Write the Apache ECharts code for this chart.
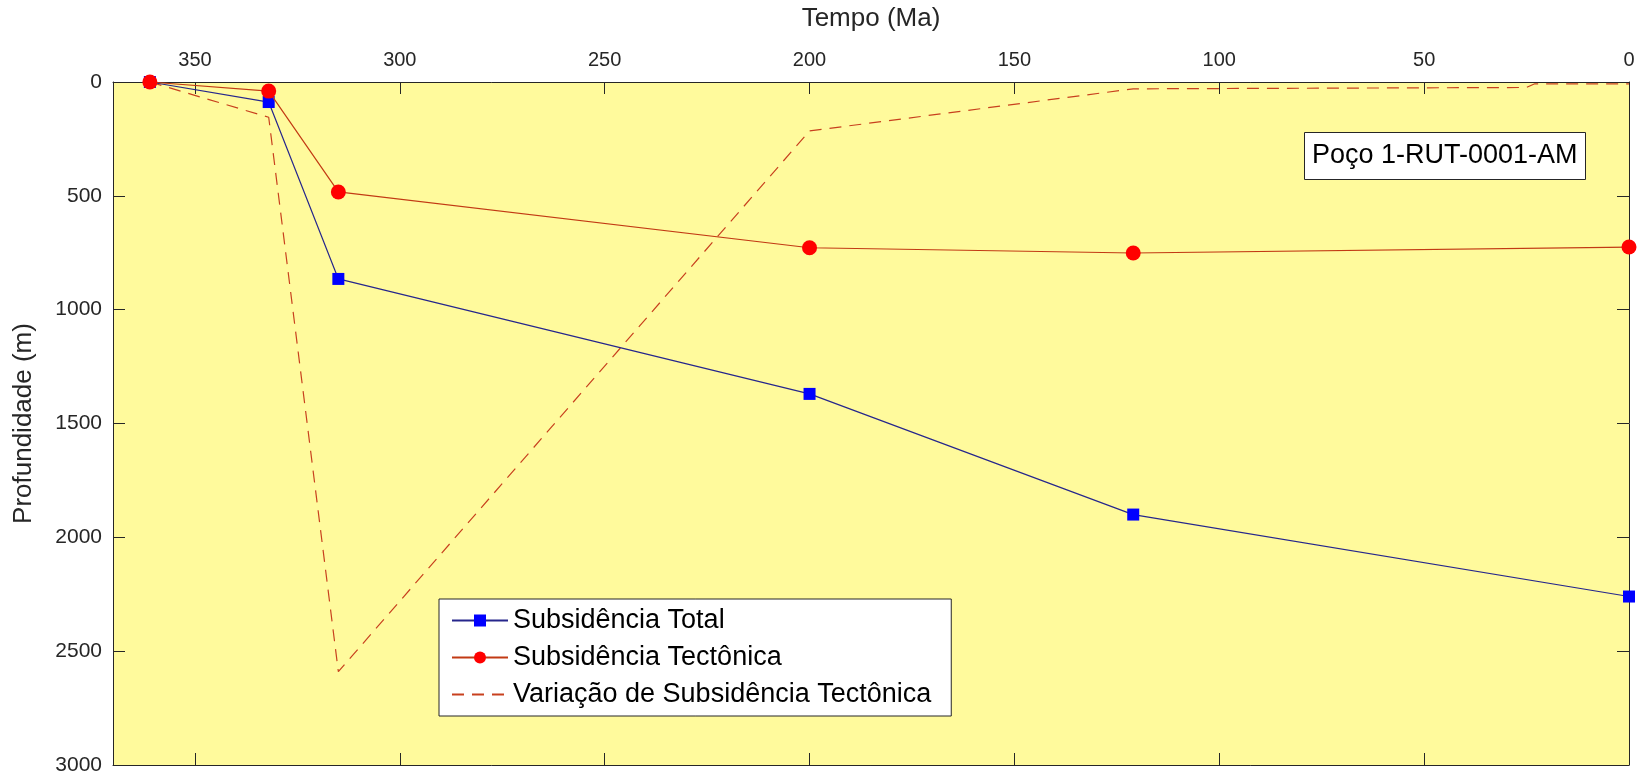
<!DOCTYPE html>
<html>
<head>
<meta charset="utf-8">
<script src="https://cdn.jsdelivr.net/npm/echarts@6/dist/echarts.min.js"></script>
<style>
  html, body { margin: 0; padding: 0; background: #fff; }
  #main-chart { width: 1646px; height: 782px; }
</style>
</head>
<body>
<div id="main-chart"></div>
<script>
// idade (Ma) e profundidade (m)
const tempo = [361, 332, 315, 200, 121, 0];
const subsTotal = [0, 88, 865, 1370, 1900, 2260];
const subsTectonica = [0, 40, 483, 728, 751, 725];
const tempoVariacao = [361, 332, 315, 200, 121, 25, 23, 0];
const variacaoTectonica = [0, 155, 2590, 215, 30, 24, 8, 8];

const fontFamily = 'Liberation Sans, Arial, sans-serif';
const axisColor = '#262626';

function pairs(xs, ys) {
    return xs.map(function (x, i) { return [x, ys[i]]; });
}

function tickStyle() {
    return { show: true, inside: true, length: 12, lineStyle: { color: axisColor, width: 1 } };
}

function lineStyle() {
    return { show: true, onZero: false, lineStyle: { color: axisColor, width: 1 } };
}

const mainChart = echarts.init(document.getElementById('main-chart'));

mainChart.setOption({
    backgroundColor: '#ffffff',
    animation: false,
    title: {
        text: 'Poço 1-RUT-0001-AM',
        left: 1304,
        top: 132,
        padding: [10, 8, 11, 8],
        backgroundColor: '#ffffff',
        borderColor: axisColor,
        borderWidth: 1,
        textStyle: { fontFamily, fontSize: 27, fontWeight: 'normal', color: '#000' }
    },
    legend: {
        orient: 'vertical',
        left: 439,
        top: 599,
        padding: [7, 20, 7, 12],
        itemGap: 8,
        itemWidth: 56,
        itemHeight: 15,
        backgroundColor: '#ffffff',
        borderColor: axisColor,
        borderWidth: 1,
        textStyle: { fontFamily, fontSize: 27, color: '#000', lineHeight: 29 },
        data: [
            'Subsidência Total',
            'Subsidência Tectônica',
            { name: 'Variação de Subsidência Tectônica', itemStyle: { opacity: 0 } }
        ]
    },
    grid: {
        left: 113, right: 17, top: 82, bottom: 17,
        show: true,
        backgroundColor: '#fffa9c',
        borderWidth: 0
    },
    xAxis: [{
        type: 'value',
        position: 'top',
        inverse: true,
        min: 0, max: 370, interval: 50,
        name: 'Tempo (Ma)',
        nameLocation: 'middle',
        nameGap: 50,
        nameTextStyle: { fontFamily, fontSize: 26, color: axisColor },
        axisLine: lineStyle(),
        axisTick: tickStyle(),
        axisLabel: {
            fontFamily, fontSize: 20, color: axisColor, margin: 12,
            formatter: function (v) { return v === 370 ? '' : String(v); }
        },
        splitLine: { show: false }
    }, {
        type: 'value',
        position: 'bottom',
        inverse: true,
        min: 0, max: 370, interval: 50,
        axisLine: lineStyle(),
        axisTick: tickStyle(),
        axisLabel: { show: false },
        splitLine: { show: false }
    }],
    yAxis: [{
        type: 'value',
        position: 'left',
        inverse: true,
        min: 0, max: 3000, interval: 500,
        name: 'Profundidade (m)',
        nameLocation: 'middle',
        nameGap: 76,
        nameTextStyle: { fontFamily, fontSize: 26, color: axisColor },
        axisLine: lineStyle(),
        axisTick: tickStyle(),
        axisLabel: {
            fontFamily, fontSize: 21, color: axisColor, margin: 11,
            formatter: function (v) { return String(v); }
        },
        splitLine: { show: false }
    }, {
        type: 'value',
        position: 'right',
        inverse: true,
        min: 0, max: 3000, interval: 500,
        axisLine: lineStyle(),
        axisTick: tickStyle(),
        axisLabel: { show: false },
        splitLine: { show: false }
    }],
    series: [{
        name: 'Variação de Subsidência Tectônica',
        type: 'line',
        data: pairs(tempoVariacao, variacaoTectonica),
        symbol: 'none',
        itemStyle: { color: '#c8401e' },
        lineStyle: { color: '#c8401e', width: 1.2, type: [12, 8] },
        z: 2
    }, {
        name: 'Subsidência Total',
        type: 'line',
        data: pairs(tempo, subsTotal),
        symbol: 'rect',
        symbolSize: 12,
        itemStyle: { color: '#0000ff', borderWidth: 0 },
        lineStyle: { color: '#26268c', width: 1.2 },
        z: 3
    }, {
        name: 'Subsidência Tectônica',
        type: 'line',
        data: pairs(tempo, subsTectonica),
        symbol: 'circle',
        symbolSize: 15,
        itemStyle: { color: '#ff0000', borderWidth: 0 },
        lineStyle: { color: '#c23a14', width: 1.2 },
        z: 4
    }]
});
</script>
</body>
</html>
